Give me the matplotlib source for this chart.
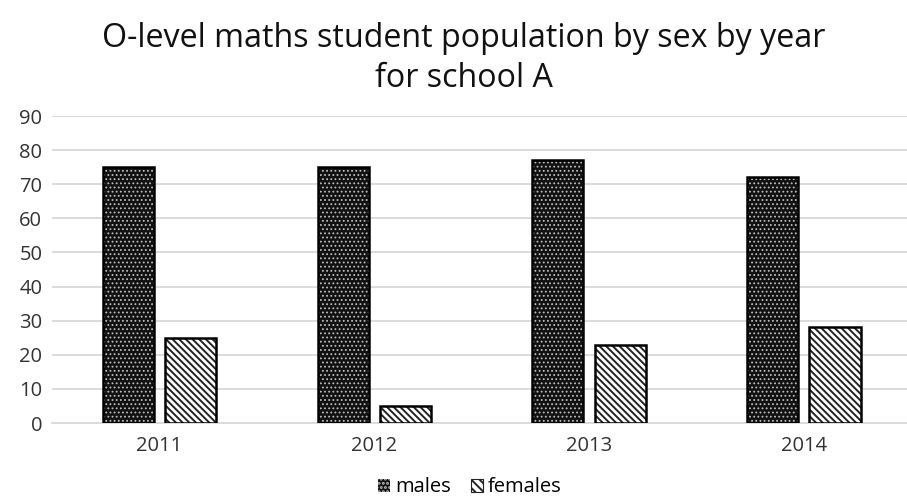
import numpy as np
import matplotlib.pyplot as plt
from matplotlib.patches import Patch

plt.rcParams['font.family'] = ['Open Sans', 'DejaVu Sans']

years = ['2011', '2012', '2013', '2014']
males = [75, 75, 77, 72]
females = [25, 5, 23, 28]

fig = plt.figure(figsize=(9.07, 4.98), dpi=100)
# plot area runs past the right edge of the image, as in the reference
ax = fig.add_axes([52 / 907, 1 - 423 / 498, 1 - 52 / 907, (423 - 116) / 498])

x = np.arange(len(years))
w = 0.238
off = 0.29

# males: dark fill with light dots, then a black outline on top
plt.rcParams['hatch.linewidth'] = 0.8
ax.bar(x - off / 2, males, w, color='#111111', hatch='....',
       edgecolor='#bdbdbd', linewidth=0, zorder=3)
male_patch = Patch(facecolor='#111111', hatch='....', edgecolor='#bdbdbd', linewidth=0)
ax.bar(x - off / 2, males, w, fill=False, edgecolor='black',
       linewidth=1.8, zorder=4)
# females: white with diagonal hatching
plt.rcParams['hatch.linewidth'] = 1.4
ax.bar(x + off / 2, females, w, color='white', hatch='\\\\\\\\\\',
       edgecolor='#222222', linewidth=0, zorder=3)
female_patch = Patch(facecolor='white', hatch='\\\\\\\\', edgecolor='#222222', linewidth=0.8)
ax.bar(x + off / 2, females, w, fill=False, edgecolor='black',
       linewidth=1.8, zorder=4)

ax.set_xlim(-0.5, 3.48)
ax.set_ylim(0, 90)
ax.set_yticks(range(0, 91, 10))
ax.set_xticks(x)
ax.set_xticklabels(years)
ax.tick_params(length=0, labelsize=14.5, colors='#333333')
ax.tick_params(axis='y', pad=7)
ax.tick_params(axis='x', pad=9)
ax.grid(axis='y', color='#d9d9d9', linewidth=1.3, zorder=0)
ax.set_axisbelow(True)
for s in ['top', 'right', 'left']:
    ax.spines[s].set_visible(False)
ax.spines['bottom'].set_color('#d9d9d9')
ax.spines['bottom'].set_linewidth(1.3)

fig.text(464 / 907, 0.955, 'O-level maths student population by sex by year\nfor school A',
         ha='center', va='top', fontsize=23.2, color='#111111', linespacing=1.25)

fig.legend([male_patch, female_patch], ['males', 'females'], loc='lower center', ncol=2,
           frameon=False, fontsize=14.5, handlelength=0.6, handleheight=0.6,
           handletextpad=0.25, columnspacing=1.0,
           bbox_to_anchor=(470 / 907, -0.035))

fig.savefig('out.png', dpi=100)
